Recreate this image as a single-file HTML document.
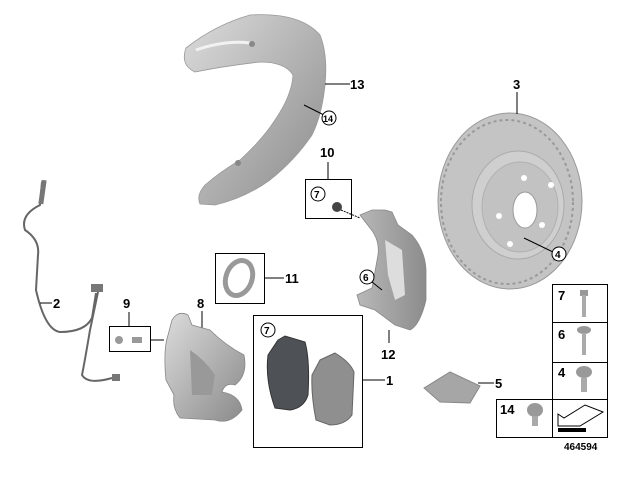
<!DOCTYPE html>
<html><head><style>
html,body{margin:0;padding:0;background:#fff;}
svg{display:block;}
text{font-family:"Liberation Sans",Arial,sans-serif;font-weight:bold;fill:#000;}
</style></head><body>
<svg width="628" height="480" viewBox="0 0 628 480" xmlns="http://www.w3.org/2000/svg">
<defs>
<linearGradient id="g1" x1="0" y1="0" x2="1" y2="1"><stop offset="0" stop-color="#dcdcdc"/><stop offset="1" stop-color="#8a8a8a"/></linearGradient>
<linearGradient id="g2" x1="0" y1="0" x2="1" y2="0"><stop offset="0" stop-color="#b8b8b8"/><stop offset="1" stop-color="#8c8c8c"/></linearGradient>
</defs>
<!-- shield 13 -->
<path d="M186,48 Q215,25 250,15 Q300,12 320,35 Q328,55 325,85 Q322,115 312,135 Q295,160 270,180 Q245,198 215,205 L200,204 Q196,195 205,185 Q220,172 240,160 Q262,140 275,120 Q292,95 293,75 Q285,62 260,62 Q225,66 195,72 Q180,65 186,48 Z" fill="url(#g1)" stroke="#999" stroke-width="0.8"/>
<path d="M196,50 Q225,40 250,43" stroke="#f2f2f2" stroke-width="3" fill="none"/>
<circle cx="252" cy="44" r="3" fill="#888"/>
<circle cx="238" cy="163" r="3" fill="#888"/>
<!-- disc 3 -->
<ellipse cx="510" cy="201" rx="72" ry="88" fill="#c4c4c4" stroke="#999"/>
<ellipse cx="507" cy="202" rx="66" ry="82" fill="none" stroke="#999" stroke-dasharray="3 3" stroke-width="2"/>
<ellipse cx="518" cy="205" rx="46" ry="54" fill="#cfcfcf" stroke="#aaa"/>
<ellipse cx="520" cy="207" rx="38" ry="45" fill="#c2c2c2" stroke="#b0b0b0"/>
<ellipse cx="525" cy="210" rx="12" ry="18" fill="#fff" stroke="#999"/>
<circle cx="524" cy="178" r="3" fill="#fff"/><circle cx="551" cy="185" r="3" fill="#fff"/>
<circle cx="499" cy="216" r="3" fill="#fff"/><circle cx="542" cy="225" r="3" fill="#fff"/>
<circle cx="510" cy="244" r="3" fill="#fff"/>
<!-- sensor 2 -->
<path d="M42,182 L40,205 Q20,215 25,230 Q40,240 38,255 L36,290 Q45,330 60,332 Q85,332 92,318 L96,293" fill="none" stroke="#666" stroke-width="2"/>
<path d="M98,292 L90,330 Q85,360 82,375 Q88,385 112,378" fill="none" stroke="#666" stroke-width="2"/>
<rect x="40" y="180" width="5" height="24" fill="#777" transform="rotate(8 42 192)"/>
<rect x="91" y="284" width="12" height="8" fill="#777"/>
<rect x="112" y="374" width="8" height="7" fill="#777"/>
<line x1="40" y1="303" x2="52" y2="303" stroke="#000"/>
<text x="53" y="308" font-size="13">2</text>
<!-- 9 -->
<text x="123" y="308" font-size="13">9</text>
<line x1="129" y1="312" x2="129" y2="326" stroke="#000"/>
<rect x="109.5" y="326.5" width="41" height="25" fill="none" stroke="#000"/>
<circle cx="119" cy="340" r="4" fill="#999"/><rect x="132" y="337" width="10" height="6" fill="#999"/>
<line x1="150" y1="340" x2="164" y2="340" stroke="#000"/>
<!-- caliper 8 -->
<text x="197" y="308" font-size="13">8</text>
<line x1="202" y1="311" x2="202" y2="330" stroke="#000"/>
<path d="M172,320 Q178,310 188,315 L192,325 L210,330 Q225,345 244,355 Q248,375 235,385 Q225,382 222,392 Q240,395 242,410 Q230,425 215,420 L180,418 Q172,408 174,395 L166,380 Q163,350 168,335 Z" fill="url(#g1)" stroke="#888" stroke-width="0.8"/>
<path d="M190,350 Q205,360 215,375 L212,395 L192,395 Z" fill="#999"/>
<!-- 11 -->
<rect x="215.5" y="253.5" width="49" height="50" fill="none" stroke="#000"/>
<ellipse cx="239" cy="278" rx="13" ry="18" fill="none" stroke="#999" stroke-width="5" transform="rotate(20 239 278)"/>
<line x1="265" y1="278" x2="284" y2="278" stroke="#000"/>
<text x="285" y="283" font-size="13">11</text>
<!-- 1 -->
<rect x="253.5" y="315.5" width="109" height="132" fill="none" stroke="#000"/>
<circle cx="268" cy="330" r="7" fill="#fff" stroke="#000"/>
<text x="264" y="334" font-size="10" font-weight="normal">7</text>
<path d="M278,340 L285,336 L305,342 Q310,360 308,395 Q304,408 290,410 L275,408 Q265,380 268,355 Z" fill="#4e5256" stroke="#333"/>
<path d="M320,360 L335,353 Q350,362 354,372 L352,415 Q345,425 330,425 L316,420 Q311,395 312,375 Z" fill="#8f8f8f" stroke="#666"/>
<line x1="363" y1="380" x2="385" y2="380" stroke="#000"/>
<text x="386" y="385" font-size="13">1</text>
<!-- 10 -->
<text x="320" y="157" font-size="13">10</text>
<line x1="328" y1="162" x2="328" y2="179" stroke="#000"/>
<rect x="305.5" y="179.5" width="46" height="39" fill="none" stroke="#000"/>
<circle cx="318" cy="194" r="7" fill="#fff" stroke="#000"/>
<text x="314" y="198" font-size="10" font-weight="normal">7</text>
<circle cx="337" cy="207" r="5" fill="#444"/>
<line x1="341" y1="210" x2="360" y2="218" stroke="#000" stroke-dasharray="2 1"/>
<!-- carrier 12 -->
<path d="M360,215 L372,210 L385,210 L392,212 L398,225 L412,235 Q425,250 426,270 L426,300 Q420,325 410,330 L395,325 L375,310 L360,305 L357,295 L372,288 L378,255 Q380,240 370,228 Z" fill="url(#g2)" stroke="#888" stroke-width="0.8"/>
<path d="M385,240 L402,250 L405,295 L395,300 L388,275 Z" fill="#ddd"/>
<circle cx="367" cy="277" r="7" fill="#fff" stroke="#000"/>
<text x="363" y="281" font-size="10" font-weight="normal">6</text>
<line x1="372" y1="282" x2="382" y2="290" stroke="#000"/>
<line x1="389" y1="330" x2="389" y2="343" stroke="#000"/>
<text x="381" y="359" font-size="13">12</text>
<!-- labels 13/14/3/4 -->
<line x1="325" y1="84" x2="350" y2="84" stroke="#000"/>
<text x="350" y="89" font-size="13">13</text>
<line x1="304" y1="105" x2="324" y2="115" stroke="#000"/>
<circle cx="329" cy="118" r="7" fill="#fff" stroke="#000"/>
<text x="323" y="122" font-size="9" font-weight="normal">14</text>
<text x="513" y="89" font-size="13">3</text>
<line x1="517" y1="92" x2="517" y2="114" stroke="#000"/>
<line x1="524" y1="238" x2="553" y2="252" stroke="#000"/>
<circle cx="559" cy="254" r="7" fill="#fff" stroke="#000"/>
<text x="555" y="258" font-size="10" font-weight="normal">4</text>
<!-- 5 -->
<path d="M424,388 L450,372 L480,386 L470,403 L440,402 Z" fill="#a6a6a6" stroke="#888"/>
<line x1="478" y1="383" x2="494" y2="383" stroke="#000"/>
<text x="495" y="388" font-size="13">5</text>
<!-- right box -->
<g stroke="#000" fill="none">
<rect x="552.5" y="284.5" width="55" height="153"/>
<line x1="552" y1="322.5" x2="608" y2="322.5"/>
<line x1="552" y1="362.5" x2="608" y2="362.5"/>
<line x1="496.5" y1="399.5" x2="608" y2="399.5"/>
<line x1="496.5" y1="399" x2="496.5" y2="438"/>
<line x1="496" y1="437.5" x2="553" y2="437.5"/>
</g>
<text x="558" y="300" font-size="13">7</text>
<text x="558" y="339" font-size="13">6</text>
<text x="558" y="377" font-size="13">4</text>
<text x="500" y="414" font-size="13">14</text>
<rect x="580" y="290" width="8" height="6" fill="#999"/><rect x="582" y="295" width="4" height="22" fill="#aaa"/>
<ellipse cx="584" cy="330" rx="7" ry="4" fill="#999"/><rect x="582" y="333" width="4" height="22" fill="#aaa"/>
<ellipse cx="584" cy="372" rx="8" ry="6" fill="#999"/><rect x="581" y="378" width="6" height="14" fill="#aaa"/>
<ellipse cx="535" cy="410" rx="8" ry="7" fill="#999"/><rect x="532" y="416" width="6" height="10" fill="#aaa"/>
<path d="M558,426 L558,414 L564,418 L585,405 L603,412 L580,426 Z" fill="#fff" stroke="#000"/>
<rect x="558" y="428" width="28" height="4" fill="#000"/>
<text x="564" y="450" font-size="10" font-weight="normal" fill="#555">464594</text>
</svg>
</body></html>
